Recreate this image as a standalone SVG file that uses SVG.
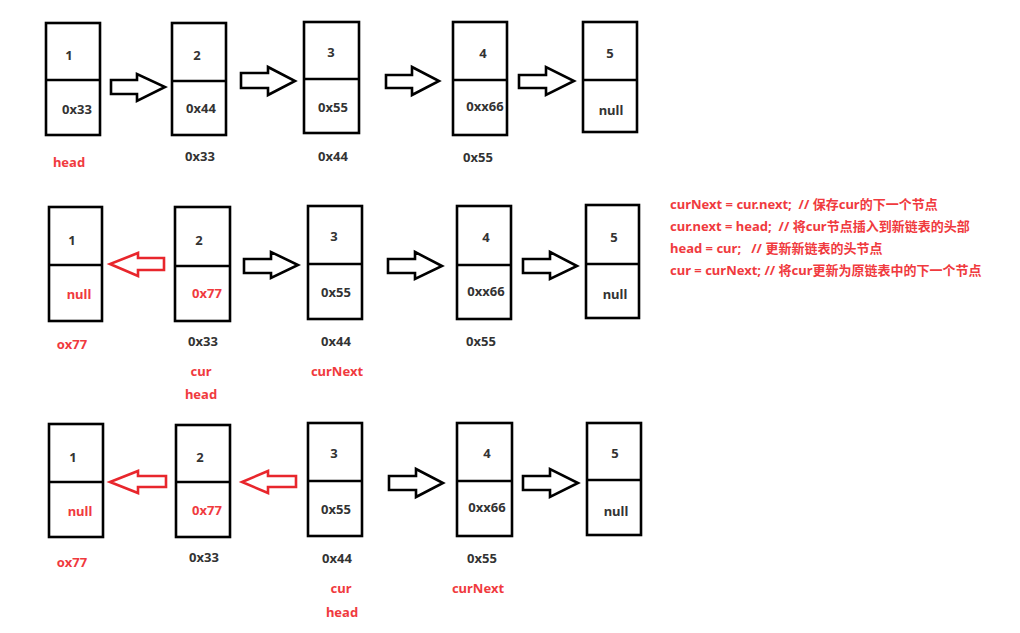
<svg xmlns="http://www.w3.org/2000/svg" width="1020" height="633" viewBox="0 0 1020 633">
<style>
.box{fill:#fff;stroke:#000;stroke-width:2.6}
.div{stroke:#000;stroke-width:2.6}
.arr{fill:#fff;stroke:#000;stroke-width:2.6;stroke-linejoin:miter}
.rarr{fill:#fff;stroke:#e8262c;stroke-width:2.6;stroke-linejoin:miter}
text{font-family:"Noto Sans","Noto Sans CJK SC",sans-serif;font-weight:bold;font-size:13px;fill:#333;text-anchor:middle;dominant-baseline:central}
text.r{fill:#f03a3e}
text.code{fill:#f03a3e;text-anchor:start;font-size:13px;white-space:pre}
</style>
<rect width="1020" height="633" fill="#fff"/>

<!-- Row 1 -->
<g id="r1n1"><rect class="box" x="46" y="23" width="54" height="112"/><line class="div" x1="46" y1="80" x2="100" y2="80"/><text x="69" y="55">1</text><text x="77" y="109">0x33</text></g>
<g id="r1n2"><rect class="box" x="172" y="23" width="54" height="112"/><line class="div" x1="172" y1="81" x2="226" y2="81"/><text x="197" y="55">2</text><text x="201" y="108">0x44</text></g>
<g id="r1n3"><rect class="box" x="304" y="22" width="55" height="111"/><line class="div" x1="304" y1="79" x2="359" y2="79"/><text x="331" y="52">3</text><text x="333" y="107">0x55</text></g>
<g id="r1n4"><rect class="box" x="453" y="22" width="54" height="113"/><line class="div" x1="453" y1="80" x2="507" y2="80"/><text x="483" y="53">4</text><text x="485" y="106">0xx66</text></g>
<g id="r1n5"><rect class="box" x="583" y="22" width="54" height="110"/><line class="div" x1="583" y1="80" x2="637" y2="80"/><text x="610" y="53">5</text><text x="611" y="110">null</text></g>
<g id="r1labels"><text class="r" x="69" y="162">head</text><text x="200" y="156">0x33</text><text x="333" y="156">0x44</text><text x="478" y="157">0x55</text></g>

<!-- Row 2 -->
<g id="r2n1"><rect class="box" x="49" y="207" width="53" height="114"/><line class="div" x1="49" y1="265" x2="102" y2="265"/><text x="72" y="240">1</text><text class="r" x="79" y="294">null</text></g>
<g id="r2n2"><rect class="box" x="175" y="207" width="55" height="114"/><line class="div" x1="175" y1="266" x2="230" y2="266"/><text x="199" y="240">2</text><text class="r" x="207" y="293">0x77</text></g>
<g id="r2n3"><rect class="box" x="308" y="206" width="54" height="113"/><line class="div" x1="308" y1="264" x2="362" y2="264"/><text x="334" y="236">3</text><text x="336" y="292">0x55</text></g>
<g id="r2n4"><rect class="box" x="457" y="206" width="54" height="113"/><line class="div" x1="457" y1="265" x2="511" y2="265"/><text x="486" y="237">4</text><text x="486" y="291">0xx66</text></g>
<g id="r2n5"><rect class="box" x="586" y="205" width="53" height="113"/><line class="div" x1="586" y1="264" x2="639" y2="264"/><text x="614" y="237">5</text><text x="615" y="294">null</text></g>
<g id="r2labels"><text class="r" x="72" y="344">ox77</text><text x="203" y="341">0x33</text><text class="r" x="201" y="371">cur</text><text class="r" x="201" y="394">head</text><text x="336" y="341">0x44</text><text class="r" x="337" y="371">curNext</text><text x="481" y="341">0x55</text></g>

<!-- Row 3 -->
<g id="r3n1"><rect class="box" x="49" y="424" width="54" height="113"/><line class="div" x1="49" y1="482" x2="103" y2="482"/><text x="73" y="457">1</text><text class="r" x="80" y="511">null</text></g>
<g id="r3n2"><rect class="box" x="176" y="425" width="54" height="112"/><line class="div" x1="176" y1="482" x2="230" y2="482"/><text x="200" y="457">2</text><text class="r" x="207" y="510">0x77</text></g>
<g id="r3n3"><rect class="box" x="308" y="423" width="54" height="113"/><line class="div" x1="308" y1="481" x2="362" y2="481"/><text x="334" y="453">3</text><text x="336" y="509">0x55</text></g>
<g id="r3n4"><rect class="box" x="457" y="423" width="55" height="113"/><line class="div" x1="457" y1="481" x2="512" y2="481"/><text x="487" y="453">4</text><text x="487" y="507">0xx66</text></g>
<g id="r3n5"><rect class="box" x="587" y="423" width="54" height="112"/><line class="div" x1="587" y1="480" x2="641" y2="480"/><text x="615" y="453">5</text><text x="616" y="511">null</text></g>
<g id="r3labels"><text class="r" x="72" y="562">ox77</text><text x="204" y="557">0x33</text><text x="337" y="558">0x44</text><text class="r" x="341" y="588">cur</text><text class="r" x="342" y="612">head</text><text x="482" y="558">0x55</text><text class="r" x="478" y="588">curNext</text></g>

<!-- Connectors -->
<g id="connectors">
<polygon class="arr" points="111,80 137,80 137,74 165,87 137,101 137,94 111,94"/>
<polygon class="arr" points="241,73 268,73 268,67 295,81 268,95 268,88 241,88"/>
<polygon class="arr" points="386,75 412,75 412,67 439,81 412,95 412,88 386,88"/>
<polygon class="arr" points="519,75 546,75 546,67 574,81 546,95 546,88 519,88"/>

<polygon class="rarr" points="164,258 138,258 138,253 110,264 138,276 138,270 164,270"/>
<polygon class="arr" points="244,259 271,259 271,252 298,265 271,278 271,273 244,273"/>
<polygon class="arr" points="388,259 415,259 415,252 442,266 415,279 415,273 388,273"/>
<polygon class="arr" points="523,259 550,259 550,252 577,266 550,279 550,273 523,273"/>

<polygon class="rarr" points="166,476 138,476 138,471 110,482 138,493 138,487 166,487"/>
<polygon class="rarr" points="296,476 268,476 268,471 242,482 268,493 268,487 296,487"/>
<polygon class="arr" points="389,476 416,476 416,469 443,483 416,497 416,490 389,490"/>
<polygon class="arr" points="523,476 550,476 550,469 578,483 550,497 550,490 523,490"/>
</g>

<g id="code">
<text class="code" x="670" y="204" xml:space="preserve">curNext = cur.next;  // 保存cur的下一个节点</text>
<text class="code" x="670" y="226" xml:space="preserve">cur.next = head;  // 将cur节点插入到新链表的头部</text>
<text class="code" x="670" y="248" xml:space="preserve">head = cur;   // 更新新链表的头节点</text>
<text class="code" x="670" y="270" xml:space="preserve">cur = curNext; // 将cur更新为原链表中的下一个节点</text>
</g>
</svg>
